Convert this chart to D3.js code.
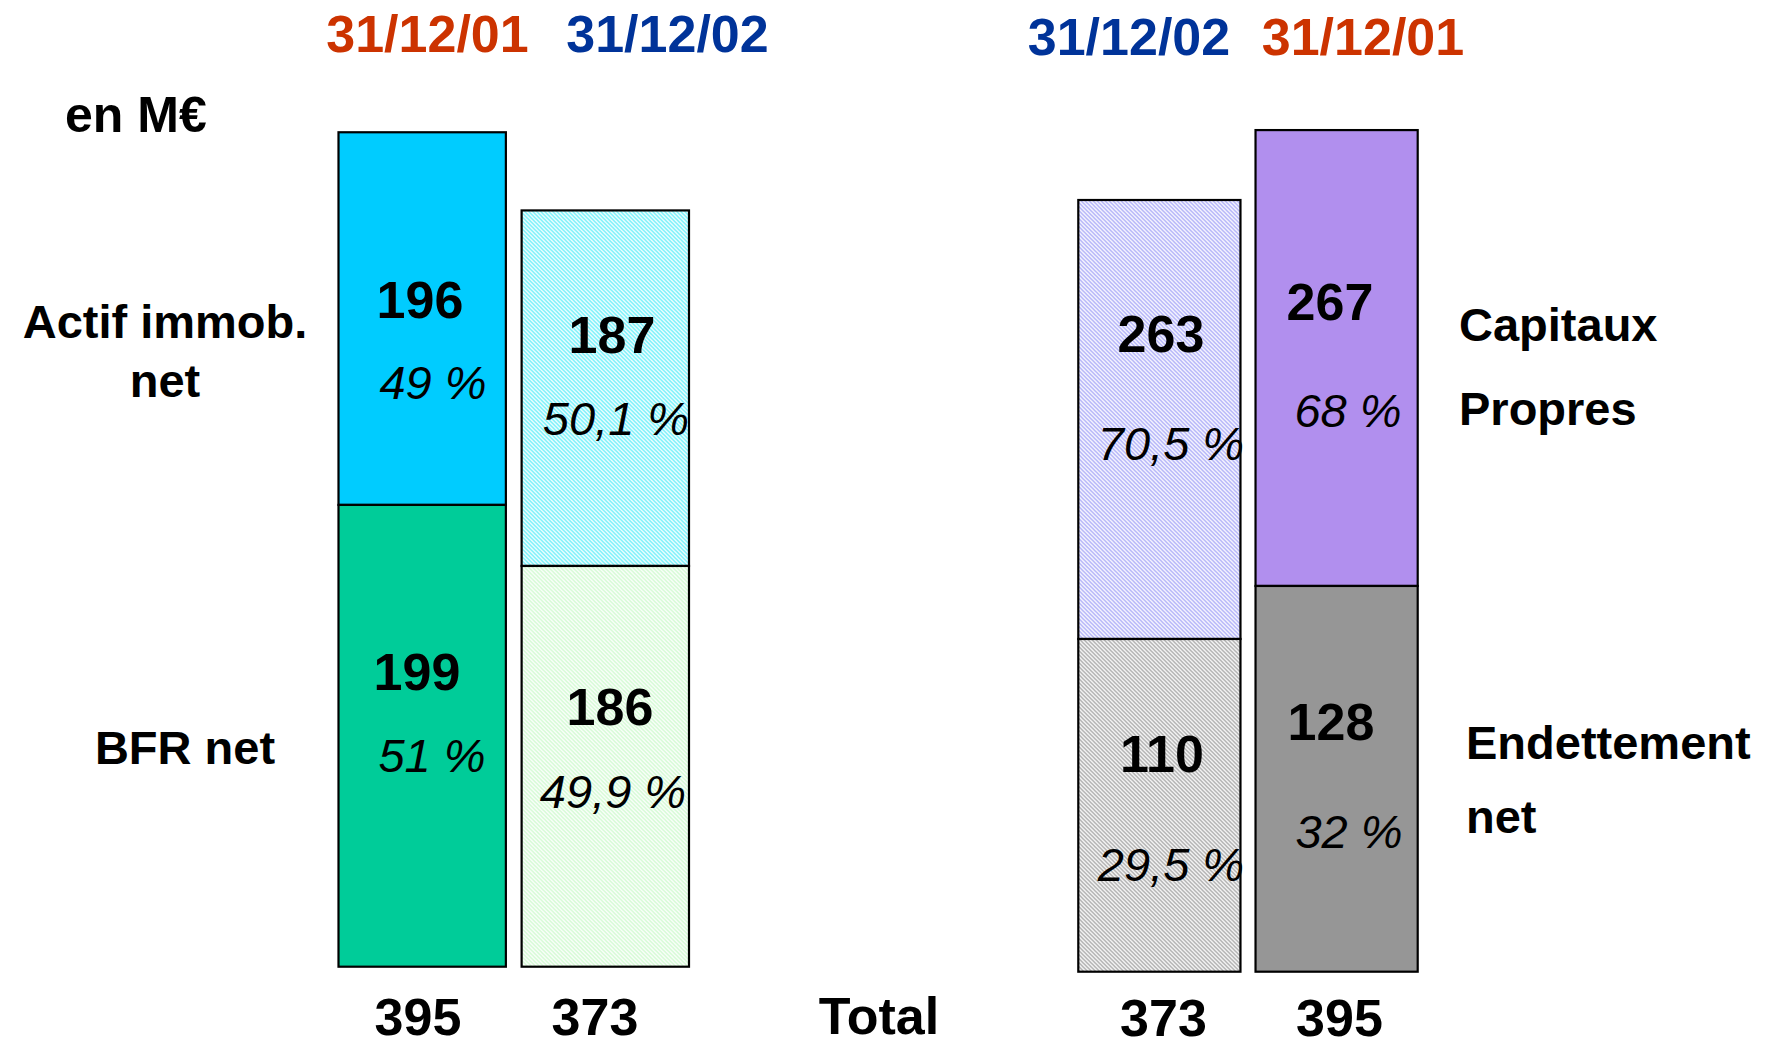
<!DOCTYPE html>
<html lang="fr">
<head>
	<meta charset="UTF-8">
	<title>Actif / Passif</title>
	<script src="https://d3js.org/d3.v7.min.js"></script>
	<style>
		html, body { margin: 0; padding: 0; background: #fff; }
		svg { display: block; }
		text { font-family: "Liberation Sans", Arial, sans-serif; }
	</style>
</head>
<body>
<script>
	// ----data----
	var leftDates = ['31/12/01', '31/12/02'];
	var rightDates = ['31/12/02', '31/12/01'];
	var leftTotals = [395, 373];
	var rightTotals = [373, 395];
	var actifImmo = [196, 187];
	var actifPct = ['49 %', '50,1 %'];
	var bfrNet = [199, 186];
	var bfrPct = ['51 %', '49,9 %'];
	var capitaux = [263, 267];
	var capPct = ['70,5 %', '68 %'];
	var endettement = [110, 128];
	var endPct = ['29,5 %', '32 %'];
	// the slide's bars are not drawn to scale: heights (M€ units) as drawn
	var drawnLeftTop = [395, 358];
	var drawnLeftSplit = [218.6, 189.7];
	var drawnRightTop = [365.3, 398.4];
	var drawnRightSplit = [157.5, 182.6];

	var width = 1769, height = 1046;
	var red = '#CC3300', blue = '#003399';

	var svg = d3.select('body').append('svg')
		.attr('width', width)
		.attr('height', height);

	//----patterns----
	var defs = svg.append('defs');
	function hatch(id, color, sw) {
		var p = defs.append('pattern')
			.attr('id', id)
			.attr('patternUnits', 'userSpaceOnUse')
			.attr('width', 4).attr('height', 4);
		p.append('rect').attr('width', 4).attr('height', 4).attr('fill', '#fff');
		p.append('path')
			.attr('d', 'M-1,-1 L5,5 M-1,3 L1,5 M3,-1 L5,1')
			.attr('stroke', color)
			.attr('stroke-width', sw);
	}
	hatch('hCyan', '#6EF0FA', 1.5);
	hatch('hGreen', '#D2FAD2', 1.5);
	hatch('hLav', '#AEAEF8', 1.5);
	hatch('hGray', '#ABABAB', 1.5);

	//----scales----
	var y = d3.scaleLinear().domain([0, 400]).range([0, 845]);
	var xLeft = d3.scaleBand().domain([0, 1]).range([338.5, 689]).paddingInner(0.086);
	var xRight = d3.scaleBand().domain([0, 1]).range([1078.3, 1417.7]).paddingInner(0.085);

	function drawPanel(x, base, tops, splits, topFills, lowFills) {
		var g = svg.append('g').attr('transform', 'translate(0,' + base + ')');
		[0, 1].forEach(function (i) {
			g.append('rect')
				.attr('x', x(i)).attr('width', x.bandwidth())
				.attr('y', -y(tops[i])).attr('height', y(tops[i]) - y(splits[i]))
				.attr('fill', topFills[i]).attr('stroke', '#000').attr('stroke-width', 2.2);
			g.append('rect')
				.attr('x', x(i)).attr('width', x.bandwidth())
				.attr('y', -y(splits[i])).attr('height', y(splits[i]))
				.attr('fill', lowFills[i]).attr('stroke', '#000').attr('stroke-width', 2.2);
		});
	}
	drawPanel(xLeft, 966.7, drawnLeftTop, drawnLeftSplit,
		['#00CCFF', 'url(#hCyan)'], ['#00CC99', 'url(#hGreen)']);
	drawPanel(xRight, 971.7, drawnRightTop, drawnRightSplit,
		['url(#hLav)', '#B18FEE'], ['url(#hGray)', '#969696']);

	//----texts----
	function txt(s, x, yy, opt) {
		opt = opt || {};
		return svg.append('text')
			.attr('x', x).attr('y', yy)
			.attr('text-anchor', opt.anchor || 'middle')
			.attr('font-size', opt.size || 47)
			.attr('font-weight', opt.italic ? 'normal' : 'bold')
			.attr('font-style', opt.italic ? 'italic' : 'normal')
			.attr('fill', opt.color || '#000')
			.text(s);
	}

	// dates
	txt(leftDates[0], 427.5, 52, {size: 52, color: red});
	txt(leftDates[1], 667.5, 52, {size: 52, color: blue});
	txt(rightDates[0], 1129, 55, {size: 52, color: blue});
	txt(rightDates[1], 1363, 55, {size: 52, color: red});

	txt('en M€', 65, 132, {anchor: 'start', size: 50});

	// category labels
	txt('Actif immob.', 165, 338);
	txt('net', 165, 397);
	txt('BFR net', 185, 764);
	txt('Capitaux', 1459, 341, {anchor: 'start'});
	txt('Propres', 1459, 425, {anchor: 'start'});
	txt('Endettement', 1466, 759, {anchor: 'start'});
	txt('net', 1466, 833, {anchor: 'start'});

	// values in bars
	txt(actifImmo[0], 420, 318, {size: 52});
	txt(actifImmo[1], 612, 353, {size: 52});
	txt(bfrNet[0], 417, 690, {size: 52});
	txt(bfrNet[1], 610, 725, {size: 52});
	txt(capitaux[0], 1161, 352, {size: 52});
	txt(capitaux[1], 1330, 320, {size: 52});
	txt(endettement[0], 1162, 772, {size: 52});
	txt(endettement[1], 1331, 740, {size: 52});

	txt(actifPct[0], 433, 399, {italic: true});
	txt(actifPct[1], 616, 435, {italic: true});
	txt(bfrPct[0], 432, 772, {italic: true});
	txt(bfrPct[1], 613, 808, {italic: true});
	txt(capPct[0], 1171, 460, {italic: true});
	txt(capPct[1], 1348, 427, {italic: true});
	txt(endPct[0], 1171, 881, {italic: true});
	txt(endPct[1], 1349, 848, {italic: true});

	// totals
	txt(leftTotals[0], 418, 1035, {size: 52});
	txt(leftTotals[1], 595, 1035, {size: 52});
	txt('Total', 879, 1034, {size: 52});
	txt(rightTotals[0], 1163.5, 1036, {size: 52});
	txt(rightTotals[1], 1339.5, 1036, {size: 52});
</script>
</body>
</html>
